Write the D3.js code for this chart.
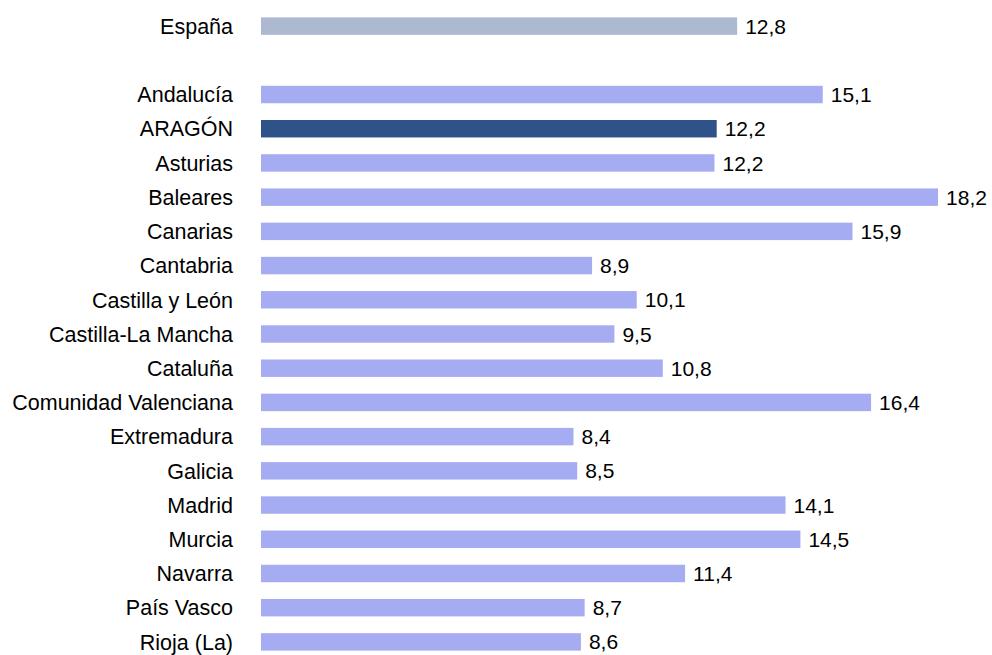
<!DOCTYPE html>
<html>
<head>
<meta charset="utf-8">
<script src="https://cdn.jsdelivr.net/npm/d3@7"></script>
<style>
  body { margin: 0; background: #fff; }
  text { font-family: "Liberation Sans", Arial, sans-serif; }
</style>
</head>
<body>
<svg id="chart" width="992" height="655"></svg>
<script>
// categories and values ("" is the empty gap row)
var categories = ["España", "", "Andalucía", "ARAGÓN", "Asturias", "Baleares", "Canarias", "Cantabria",
  "Castilla y León", "Castilla-La Mancha", "Cataluña", "Comunidad Valenciana", "Extremadura",
  "Galicia", "Madrid", "Murcia", "Navarra", "País Vasco", "Rioja (La)"];
var values = [12.8, null, 15.1, 12.25, 12.19, 18.2, 15.9, 8.9, 10.1, 9.5, 10.8, 16.4, 8.4, 8.5, 14.1, 14.5, 11.4, 8.7, 8.6];
var labels = ["12,8", "", "15,1", "12,2", "12,2", "18,2", "15,9", "8,9", "10,1", "9,5", "10,8", "16,4",
  "8,4", "8,5", "14,1", "14,5", "11,4", "8,7", "8,6"];

var svg = d3.select("#chart");

var x = d3.scaleLinear().domain([0, 20]).range([261, 261 + 20 * 37.2]);
var y = d3.scaleBand().domain(categories).range([9, 659]).paddingInner(0.49).paddingOuter(0.245);

function barColor(d) {
  if (d === "España") return "#adb9d0";
  if (d === "ARAGÓN") return "#2f5289";
  return "#a6acf2";
}

var rows = categories.map(function(c, i) { return { cat: c, v: values[i], lab: labels[i] }; })
  .filter(function(d) { return d.cat !== ""; });

svg.selectAll("rect.bar").data(rows).enter().append("rect")
  .attr("class", "bar")
  .attr("x", x(0))
  .attr("y", function(d) { return y(d.cat); })
  .attr("width", function(d) { return x(d.v) - x(0); })
  .attr("height", y.bandwidth())
  .attr("fill", function(d) { return barColor(d.cat); });

// category names on the left
svg.selectAll("text.cat").data(rows).enter().append("text")
  .attr("class", "cat")
  .attr("x", 233)
  .attr("y", function(d) { return y(d.cat) + y.bandwidth() / 2; })
  .attr("dy", "0.36em")
  .attr("text-anchor", "end")
  .attr("font-size", 21.5)
  .attr("fill", "#000")
  .text(function(d) { return d.cat; });

// value labels after each bar
svg.selectAll("text.val").data(rows).enter().append("text")
  .attr("class", "val")
  .attr("x", function(d) { return x(d.v) + 8; })
  .attr("y", function(d) { return y(d.cat) + y.bandwidth() / 2; })
  .attr("dy", "0.36em")
  .attr("font-size", 21)
  .attr("fill", "#000")
  .text(function(d) { return d.lab; });
</script>
</body>
</html>
